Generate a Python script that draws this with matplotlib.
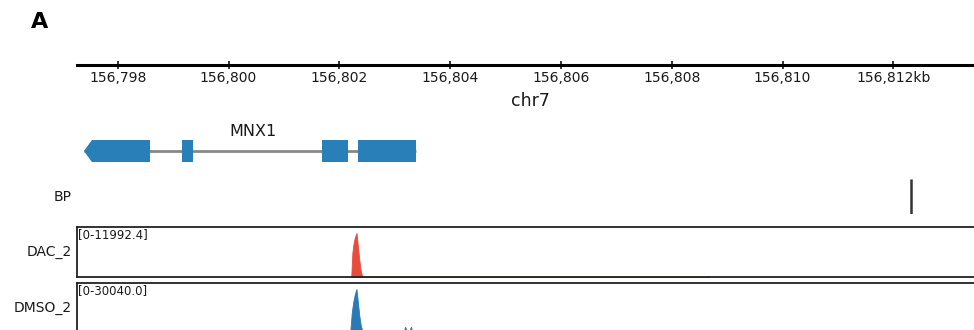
import matplotlib
matplotlib.use("Agg")
import matplotlib.pyplot as plt
from matplotlib.patches import Polygon, Rectangle
from matplotlib.ticker import FixedLocator, FuncFormatter

# ---- region and annotation data (bp) ----
chrom = "chr7"
region_start = 156797265
region_end = 156813925
tick_positions = [156798000, 156800000, 156802000, 156804000,
                  156806000, 156808000, 156810000, 156812000]

gene_name = "MNX1"
gene_strand = "-"
exon_starts = [156797390, 156799160, 156801687, 156802337]
exon_ends = [156798583, 156799359, 156802157, 156803384]

bp_label = "BP"
breakpoints = [156812319]

# ---- coverage tracks ----
dac_name = "DAC_2"
dac_max = 11992.4
dac_pos = [156802215, 156802235, 156802255, 156802280, 156802310,
           156802335, 156802360, 156802385, 156802415,
           156808625, 156808655, 156808685]
dac_val = [0, 6600, 9000, 10800, 11992.4, 8400, 4800, 1800, 0,
           0, 350, 0]

dmso_name = "DMSO_2"
dmso_max = 30040.0
dmso_pos = [156802195, 156802225, 156802250, 156802280, 156802310,
            156802335, 156802360, 156802390, 156802430,
            156803160, 156803185, 156803225, 156803260, 156803294, 156803320]
dmso_val = [0, 14000, 21000, 26500, 30040.0, 21000, 12000, 4500, 0,
            0, 4300, 1000, 1300, 4300, 0]

gene_color = "#2980b9"
dac_color = "#e74c3c"
dmso_color = "#2a7ab6"
text_color = "#1a1a1a"

W, H = 974, 330
fig = plt.figure(figsize=(W / 100, H / 100), dpi=100)


def box(x0, y_top, x1, y_bot):
    """Axes rectangle from pixel coordinates (origin top-left)."""
    return [x0 / W, 1 - y_bot / H, (x1 - x0) / W, (y_bot - y_top) / H]


ax_left_px = 76.5
ax_right_px = 1000
xlim = (region_start - 0.5 * 18.05, region_end)

fig.text(40 / W, 1 - 22 / H, "A", fontsize=16, fontweight="bold",
         ha="center", va="center")

# ---- scale axis ----
ax_s = fig.add_axes(box(ax_left_px, 63, ax_right_px, 64.5))
ax_s.set_xlim(*xlim)
for side in ("top", "left", "right"):
    ax_s.spines[side].set_visible(False)
ax_s.spines["bottom"].set_linewidth(2.2)
ax_s.set_yticks([])
ax_s.xaxis.set_major_locator(FixedLocator(tick_positions))


def fmt(x, pos):
    s = f"{x / 1000:,.0f}"
    if x == tick_positions[-1]:
        s += "kb"
    return s


ax_s.xaxis.set_major_formatter(FuncFormatter(fmt))
ax_s.tick_params(axis="x", direction="inout", length=6, width=1.1,
                 labelsize=10, pad=2)
for lab in ax_s.get_xticklabels():
    lab.set_color(text_color)
fig.text(530 / W, 1 - 101 / H, chrom, fontsize=12.5, ha="center",
         va="center", color=text_color)

# ---- gene track ----
ax_g = fig.add_axes(box(ax_left_px, 120, ax_right_px, 170))
ax_g.set_xlim(*xlim)
ax_g.set_ylim(0, 50)
ax_g.axis("off")
y_mid = 170 - 151
half = 11
ax_g.plot([exon_starts[0], exon_ends[-1]], [y_mid, y_mid],
          color="#888888", lw=2, zorder=1, solid_capstyle="butt")
tip = 8 * 18.05
for i, (s, e) in enumerate(zip(exon_starts, exon_ends)):
    if i == 0 and gene_strand == "-":
        pts = [(s, y_mid), (s + tip, y_mid + half), (e, y_mid + half),
               (e, y_mid - half), (s + tip, y_mid - half)]
        ax_g.add_patch(Polygon(pts, closed=True, facecolor=gene_color,
                               edgecolor="none", zorder=2))
    else:
        ax_g.add_patch(Rectangle((s, y_mid - half), e - s, 2 * half,
                                 facecolor=gene_color, edgecolor="none",
                                 zorder=2))
ax_g.text((exon_starts[0] + exon_ends[-1]) / 2 + 3 * 18.05, 170 - 131,
          gene_name, fontsize=11.5, ha="center", va="center",
          color=text_color)

# ---- breakpoint track ----
ax_b = fig.add_axes(box(ax_left_px, 179, ax_right_px, 214))
ax_b.set_xlim(*xlim)
ax_b.set_ylim(0, 1)
ax_b.axis("off")
for b in breakpoints:
    ax_b.plot([b, b], [0, 1], color="#333333", lw=1.8,
              solid_capstyle="butt")
fig.text(72 / W, 1 - 197 / H, bp_label, fontsize=10, ha="right",
         va="center", color=text_color)


# ---- signal tracks ----
def signal_track(y_top, y_bot, name, pos, val, vmax, color):
    ax = fig.add_axes(box(ax_left_px, y_top, ax_right_px, y_bot))
    ax.set_xlim(*xlim)
    ax.set_ylim(0, vmax * 1.136)
    ax.fill_between(pos, 0, val, color=color, lw=0.6, edgecolor=color)
    ax.set_xticks([])
    ax.set_yticks([])
    for sp in ax.spines.values():
        sp.set_linewidth(1.3)
        sp.set_color("#222222")
    ax.text(0.002, 0.985, f"[0-{vmax:.1f}]", transform=ax.transAxes,
            fontsize=8.5, ha="left", va="top", color=text_color)
    fig.text(72 / W, 1 - (y_top + y_bot) / 2 / H, name, fontsize=10,
             ha="right", va="center", color=text_color)
    return ax


signal_track(227, 277, dac_name, dac_pos, dac_val, dac_max, dac_color)
signal_track(283, 333, dmso_name, dmso_pos, dmso_val, dmso_max, dmso_color)

fig.savefig("out.png", dpi=100)
